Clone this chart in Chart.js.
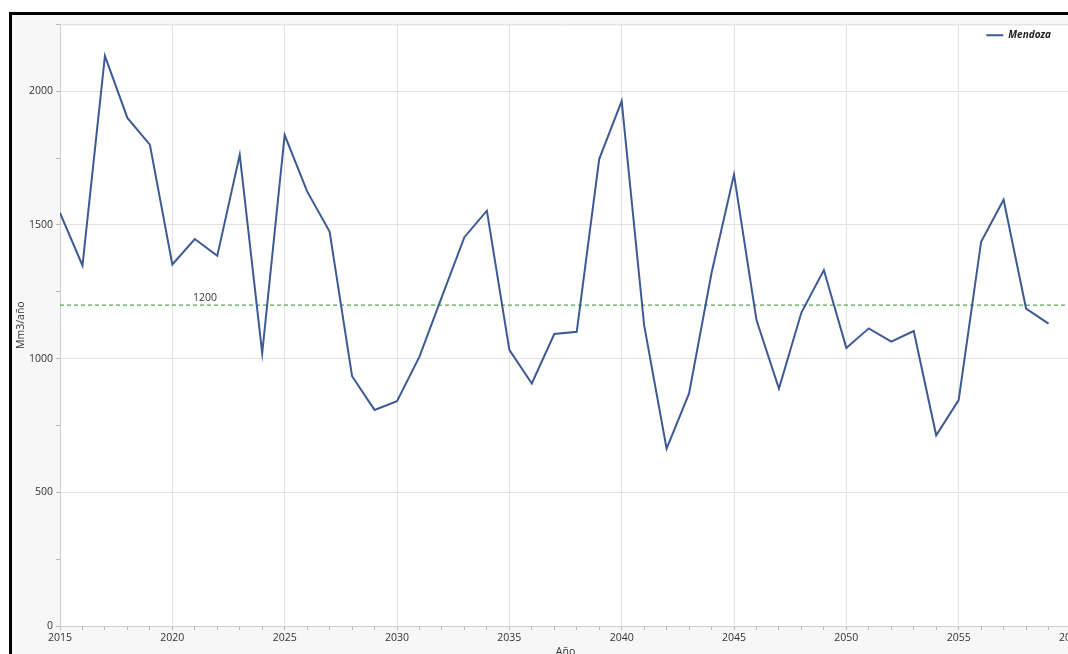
<!DOCTYPE html>
<html lang="es">
<head>
    <meta charset="UTF-8">
    <title>Mendoza - Mm3/año</title>
    <script src="https://cdn.jsdelivr.net/npm/chart.js"></script>
    <style>
        html, body {
            margin: 0;
            padding: 0;
            background: #ffffff;
            overflow: hidden;
            width: 1068px;
            height: 654px;
        }
        .frame {
            position: absolute;
            left: 9px;
            top: 12px;
            border-left: 3px solid #000;
            border-top: 3px solid #000;
            background: #f7f7f7;
        }
        .chart-box {
            position: relative;
            width: 1088px;
            height: 665px;
        }
    </style>
</head>
<body>
    <div class="frame">
        <div class="chart-box">
            <canvas id="chart"></canvas>
        </div>
    </div>

    <script>
        // Data
        const years = [
            2015, 2016, 2017, 2018, 2019, 2020, 2021, 2022, 2023, 2024,
            2025, 2026, 2027, 2028, 2029, 2030, 2031, 2032, 2033, 2034,
            2035, 2036, 2037, 2038, 2039, 2040, 2041, 2042, 2043, 2044,
            2045, 2046, 2047, 2048, 2049, 2050, 2051, 2052, 2053, 2054,
            2055, 2056, 2057, 2058, 2059
        ];
        const mendoza = [
            1545, 1348, 2132, 1900, 1800, 1352, 1447, 1384, 1762, 1020,
            1836, 1625, 1475, 934, 808, 841, 1007, 1232, 1454, 1553,
            1033, 907, 1092, 1100, 1746, 1963, 1125, 663, 870, 1320,
            1688, 1144, 888, 1172, 1331, 1040, 1113, 1063, 1103, 713,
            845, 1437, 1594, 1187, 1131
        ];
        const threshold = 1200;
        const thresholdLabel = '1200';
        const xRange = [2015, 2060];
        const yRange = [0, 2250];

        const tickFont = { family: "'Open Sans', 'Noto Sans', sans-serif", size: 10.5 };

        // white plot area on grey background, thin top border
        const plotBackground = {
            id: 'plotBackground',
            beforeDraw(chart) {
                const { ctx, chartArea } = chart;
                ctx.save();
                ctx.fillStyle = '#f7f7f7';
                ctx.fillRect(0, 0, chart.width, chart.height);
                ctx.fillStyle = '#ffffff';
                ctx.fillRect(chartArea.left, chartArea.top,
                    chartArea.right - chartArea.left, chartArea.bottom - chartArea.top);
                ctx.strokeStyle = '#dcdcdc';
                ctx.lineWidth = 1;
                ctx.beginPath();
                ctx.moveTo(chartArea.left, chartArea.top + 0.5);
                ctx.lineTo(chartArea.right, chartArea.top + 0.5);
                ctx.stroke();
                ctx.restore();
            }
        };

        // legend sits inside the plot, top right
        const legendTopRight = {
            id: 'legendTopRight',
            afterLayout(chart) {
                const lg = chart.legend;
                if (!lg || !lg.columnSizes || !lg.columnSizes.length) return;
                const w = lg.columnSizes[0].width;
                const pad = lg.options.labels.padding;
                lg.left = chart.chartArea.right - 20 - w - pad;
                lg.top = chart.chartArea.top + 2;
            }
        };

        // text label over the 1200 reference line
        const thresholdText = {
            id: 'thresholdText',
            afterDatasetsDraw(chart) {
                const { ctx, scales } = chart;
                const x = scales.x.getPixelForValue(2021.45);
                const y = scales.y.getPixelForValue(threshold);
                ctx.save();
                ctx.font = "10.5px 'Open Sans', 'Noto Sans', sans-serif";
                ctx.fillStyle = '#333';
                ctx.textAlign = 'center';
                ctx.textBaseline = 'bottom';
                ctx.fillText(thresholdLabel, x, y - 2);
                ctx.restore();
            }
        };

        new Chart(document.getElementById('chart'), {
            type: 'line',
            data: {
                datasets: [
                    {
                        label: 'Mendoza',
                        data: years.map((yr, i) => ({ x: yr, y: mendoza[i] })),
                        borderColor: '#3d5a93',
                        backgroundColor: '#3d5a93',
                        borderWidth: 2,
                        pointRadius: 0,
                        tension: 0
                    },
                    {
                        label: 'umbral',
                        data: xRange.map(yr => ({ x: yr, y: threshold })),
                        borderColor: '#54a553',
                        borderWidth: 1.3,
                        borderDash: [4, 3],
                        pointRadius: 0
                    }
                ]
            },
            options: {
                responsive: true,
                maintainAspectRatio: false,
                animation: false,
                layout: {
                    padding: { left: 0, top: 9, right: 29, bottom: 22 }
                },
                plugins: {
                    legend: {
                        position: 'chartArea',
                        align: 'start',
                        labels: {
                            filter: item => item.text === 'Mendoza',
                            usePointStyle: true,
                            pointStyle: 'line',
                            pointStyleWidth: 17,
                            color: '#222',
                            padding: 4,
                            font: { family: "'Open Sans', 'Noto Sans', sans-serif", size: 10, style: 'italic', weight: 'bold' }
                        }
                    },
                    tooltip: { enabled: false }
                },
                scales: {
                    x: {
                        type: 'linear',
                        min: xRange[0],
                        max: xRange[1],
                        afterFit: scale => { scale.height = 32; },
                        ticks: {
                            stepSize: 1,
                            autoSkip: false,
                            maxRotation: 0,
                            maxTicksLimit: 100,
                            padding: 2,
                            color: '#333',
                            font: tickFont,
                            callback: v => (v % 5 === 0 ? String(v) : '')
                        },
                        grid: {
                            color: c => (c.tick && c.tick.value % 5 === 0 ? '#e2e2e2' : 'rgba(0,0,0,0)'),
                            tickColor: '#b8b8b8',
                            tickLength: 4
                        },
                        border: { color: '#cfcfcf' },
                        title: {
                            display: true,
                            text: 'Año',
                            color: '#333',
                            padding: 0,
                            font: tickFont
                        }
                    },
                    y: {
                        min: yRange[0],
                        max: yRange[1],
                        afterFit: scale => { scale.width = 48; },
                        ticks: {
                            stepSize: 250,
                            includeBounds: false,
                            padding: 3,
                            color: '#333',
                            font: tickFont,
                            callback: v => (v % 500 === 0 ? String(v) : '')
                        },
                        grid: {
                            color: c => (c.tick && c.tick.value % 500 === 0 ? '#e2e2e2' : 'rgba(0,0,0,0)'),
                            tickColor: '#b8b8b8',
                            tickLength: 4
                        },
                        border: { color: '#cfcfcf' },
                        title: {
                            display: true,
                            text: 'Mm3/año',
                            color: '#333',
                            padding: { top: 3, bottom: 0 },
                            font: tickFont
                        }
                    }
                }
            },
            plugins: [plotBackground, legendTopRight, thresholdText]
        });
    </script>
</body>
</html>
